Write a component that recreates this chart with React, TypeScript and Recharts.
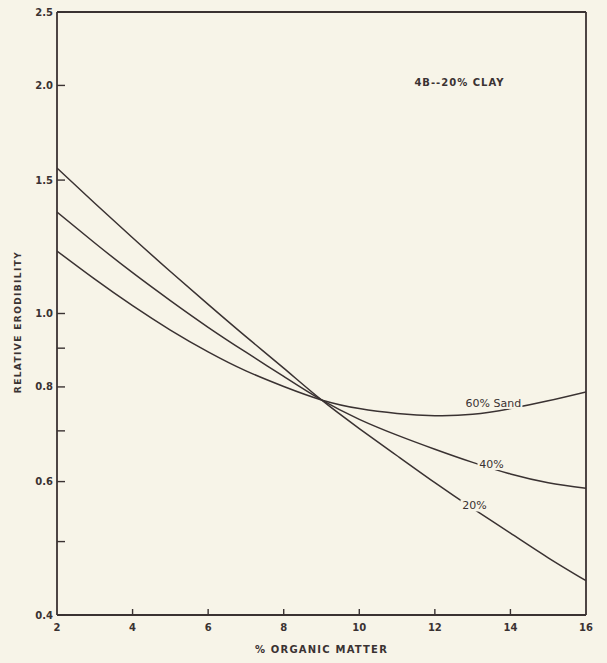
import React from 'react';
import { LineChart, Line, XAxis, YAxis, ReferenceLine, ReferenceDot } from 'recharts';

const organicMatter = [2, 3, 4, 5, 6, 7, 8, 9, 10, 11, 12, 13, 14, 15, 16];
const sand20 = [1.556, 1.398, 1.259, 1.136, 1.028, 0.932, 0.847, 0.769, 0.705, 0.649, 0.598, 0.553, 0.513, 0.476, 0.444];
const sand40 = [1.361, 1.239, 1.132, 1.04, 0.959, 0.889, 0.826, 0.769, 0.725, 0.691, 0.662, 0.636, 0.614, 0.598, 0.588];
const sand60 = [1.209, 1.11, 1.024, 0.951, 0.89, 0.84, 0.801, 0.769, 0.749, 0.738, 0.733, 0.736, 0.749, 0.767, 0.788];

const xTicks = [2, 4, 6, 8, 10, 12, 14, 16];
const yTicks = [0.4, 0.5, 0.6, 0.7, 0.8, 0.9, 1.0, 1.5, 2.0, 2.5];
const yLabeled = ['0.4', '0.6', '0.8', '1.0', '1.5', '2.0', '2.5'];

const seriesLabels = [
  { x: 13.55, y: 0.762, text: '60% Sand' },
  { x: 13.5, y: 0.633, text: '40%' },
  { x: 13.05, y: 0.558, text: '20%' },
];
const title = { x: 12.65, y: 2.02, text: '4B--20% CLAY' };

const data = organicMatter.map((om, i) => ({ om, s20: sand20[i], s40: sand40[i], s60: sand60[i] }));

const BG = '#f7f4e8';
const INK = '#3a3232';
const FONT = '"DejaVu Sans", "Liberation Sans", sans-serif';

const YTick = (props: any) => {
  const { x, y, payload } = props;
  const v = payload.value;
  const lbl = v.toFixed(1);
  return (
    <g>
      <line x1={x} x2={x + 8} y1={y} y2={y} stroke={INK} strokeWidth={1.4} />
      {yLabeled.includes(lbl) && (
        <text x={x - 4} y={y} dy={3.5} textAnchor="end" fontSize={10} fontWeight="bold" fill={INK} fontFamily={FONT}>
          {lbl}
        </text>
      )}
    </g>
  );
};

const XTick = (props: any) => {
  const { x, y, payload } = props;
  return (
    <g>
      {payload.value !== 2 && payload.value !== 16 && (
        <line x1={x} x2={x} y1={y} y2={y - 6} stroke={INK} strokeWidth={1.4} />
      )}
      <text x={x} y={y + 16} textAnchor="middle" fontSize={10} fontWeight="bold" fill={INK} fontFamily={FONT}>
        {payload.value}
      </text>
    </g>
  );
};

const makeLabelShape = (text: string, bgWidth: number) => (props: any) => {
  const { cx, cy } = props;
  return (
    <g>
      <rect x={cx - bgWidth / 2} y={cy - 6} width={bgWidth} height={12} fill={BG} />
      <text x={cx} y={cy} dy={4} textAnchor="middle" fontSize={11} fill={INK} fontFamily={FONT}>
        {text}
      </text>
    </g>
  );
};

const titleShape = (props: any) => {
  const { cx, cy } = props;
  return (
    <text x={cx} y={cy} dy={3.5} textAnchor="middle" fontSize={10} fontWeight="bold" letterSpacing={1} fill={INK} fontFamily={FONT}>
      {title.text}
    </text>
  );
};

export default function App() {
  return (
    <div style={{ position: 'absolute', left: 0, top: 0, width: 607, height: 663, background: BG }}>
      <LineChart width={607} height={663} data={data} margin={{ top: 12, right: 21, bottom: 8, left: 7 }}>
        <XAxis
          dataKey="om"
          type="number"
          domain={[2, 16]}
          ticks={xTicks}
          allowDataOverflow
          height={40}
          tickSize={0}
          tickMargin={0}
          tickLine={false}
          axisLine={{ stroke: INK, strokeWidth: 1.8 }}
          tick={<XTick />}
          interval={0}
          label={{ value: '% ORGANIC  MATTER', position: 'insideBottom', offset: 2, fontSize: 10, fontWeight: 'bold', letterSpacing: 1.2, fill: INK, fontFamily: FONT }}
        />
        <YAxis
          type="number"
          scale="log"
          domain={[0.4, 2.5]}
          ticks={yTicks}
          allowDataOverflow
          width={50}
          tickSize={0}
          tickMargin={0}
          tickLine={false}
          axisLine={{ stroke: INK, strokeWidth: 1.8 }}
          tick={<YTick />}
          interval={0}
        />
        <ReferenceLine y={2.5} stroke={INK} strokeWidth={1.8} />
        <ReferenceLine x={16} stroke={INK} strokeWidth={1.8} />
        <Line type="natural" dataKey="s20" stroke={INK} strokeWidth={1.5} dot={false} isAnimationActive={false} />
        <Line type="natural" dataKey="s40" stroke={INK} strokeWidth={1.5} dot={false} isAnimationActive={false} />
        <Line type="natural" dataKey="s60" stroke={INK} strokeWidth={1.5} dot={false} isAnimationActive={false} />
        <ReferenceDot x={seriesLabels[0].x} y={seriesLabels[0].y} r={0} shape={makeLabelShape(seriesLabels[0].text, 58)} />
        <ReferenceDot x={seriesLabels[1].x} y={seriesLabels[1].y} r={0} shape={makeLabelShape(seriesLabels[1].text, 28)} />
        <ReferenceDot x={seriesLabels[2].x} y={seriesLabels[2].y} r={0} shape={makeLabelShape(seriesLabels[2].text, 28)} />
        <ReferenceDot x={title.x} y={title.y} r={0} shape={titleShape} />
      </LineChart>
      <div
        style={{
          position: 'absolute',
          left: 18,
          top: 322,
          transform: 'translate(-50%, -50%) rotate(-90deg)',
          whiteSpace: 'nowrap',
          fontSize: 9,
          fontWeight: 'bold',
          color: INK,
          fontFamily: FONT,
          letterSpacing: 1.4,
        }}
      >
        RELATIVE  ERODIBILITY
      </div>
    </div>
  );
}
